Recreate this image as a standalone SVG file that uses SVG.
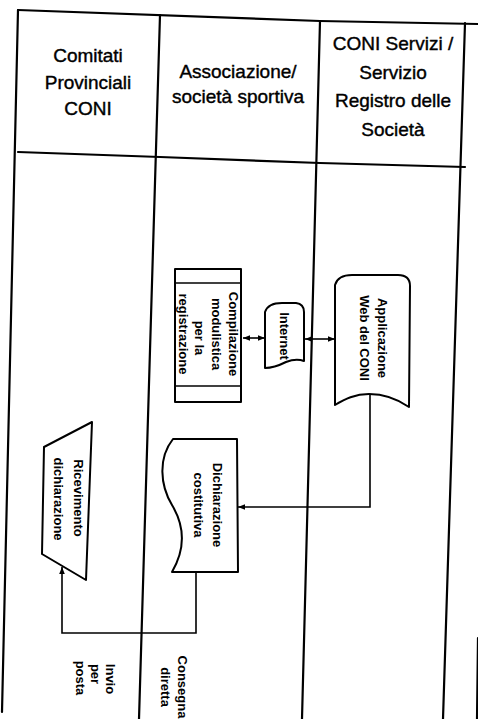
<svg xmlns="http://www.w3.org/2000/svg" width="478" height="719" viewBox="0 0 478 719">
<style>
.lane{stroke:#000;stroke-width:2.2;fill:none;stroke-linecap:round}
.node{stroke:#000;stroke-width:2;fill:#fff;stroke-linejoin:round}
.edge{stroke:#000;stroke-width:1.6;fill:none}
.hdr{font-family:"Liberation Sans",Arial,sans-serif;font-size:19px;text-anchor:middle;fill:#000;stroke:#000;stroke-width:0.4}
.lbl{font-family:"Liberation Sans",Arial,sans-serif;font-size:13px;font-weight:bold;text-anchor:middle;dominant-baseline:central;fill:#000}
</style>
<defs>
<marker id="ah" viewBox="0 0 10 10" refX="10" refY="5" markerWidth="7" markerHeight="7" orient="auto-start-reverse" markerUnits="userSpaceOnUse">
<path d="M0,1 L10,5 L0,9 Z" fill="#000"/>
</marker>
</defs>
<rect x="0" y="0" width="478" height="719" fill="#fff"/>
<g id="lanes">
<path class="lane" d="M18,10 L320,21 L478,24"/>
<path class="lane" d="M18,152 L160,157 L320,163 L465,167"/>
<path class="lane" d="M18,10 L2,712"/>
<path class="lane" d="M160,15 L139,719"/>
<path class="lane" d="M320,21 L302,719"/>
<path class="lane" d="M465,23 L443,719"/>
<path class="lane" d="M478,638 L477,719"/>
</g>
<g id="headers">
<text class="hdr" x="88" y="62">Comitati</text>
<text class="hdr" x="88" y="89">Provinciali</text>
<text class="hdr" x="88" y="115">CONI</text>
<text class="hdr" x="238" y="78">Associazione/</text>
<text class="hdr" x="238" y="103">società sportiva</text>
<text class="hdr" x="393" y="50">CONI Servizi /</text>
<text class="hdr" x="393" y="79">Servizio</text>
<text class="hdr" x="393" y="107">Registro delle</text>
<text class="hdr" x="393" y="136">Società</text>
</g>
<g id="connectors">
<path class="edge" d="M243,338 L265,338" marker-start="url(#ah)" marker-end="url(#ah)"/>
<path class="edge" d="M305,339 L335,339" marker-start="url(#ah)" marker-end="url(#ah)"/>
<path class="edge" d="M370,395 L370,507 L238,507" marker-end="url(#ah)"/>
<path class="edge" d="M196,572 L196,633 L62,633 L62,567" marker-end="url(#ah)"/>
</g>
<g id="compilazione">
<rect class="node" x="175" y="269" width="66" height="133"/>
<line class="edge" x1="175" y1="283" x2="241" y2="283" stroke-width="2"/>
<line class="edge" x1="175" y1="386" x2="241" y2="386" stroke-width="2"/>
<text class="lbl" transform="translate(233,334) rotate(90)">Compilazione</text>
<text class="lbl" transform="translate(216,334) rotate(90)">modulistica</text>
<text class="lbl" transform="translate(199,338) rotate(90)">per la</text>
<text class="lbl" transform="translate(183,334) rotate(90)">registrazione</text>
</g>
<g id="internet">
<path class="node" d="M265,312 Q268,303 282,303 L296,303 Q304,304 304,312 L304,361 Q296,358 286,362 Q274,368 265,368 Z"/>
<text class="lbl" transform="translate(284,336) rotate(90)" font-size="12.5">Internet</text>
</g>
<g id="applicazione">
<path class="node" d="M335,285 C337,278 343,275 352,275 L398,275 C406,275 410,279 410,286 L409,407 C396,398 382,394 369,394 C355,394 345,399 335,405 Z"/>
<text class="lbl" transform="translate(382,338) rotate(90)" font-size="14">Applicazione</text>
<text class="lbl" transform="translate(364,338) rotate(90)" font-size="14">Web del CONI</text>
</g>
<g id="dichiarazione">
<path class="node" d="M173,439 L237,439 L238,572 L172,572 C186,548 184,525 172,505 C160,485 158,458 173,439 Z"/>
<text class="lbl" transform="translate(217,505) rotate(90)" font-size="14">Dichiarazione</text>
<text class="lbl" transform="translate(198,505) rotate(90)" font-size="14">costitutiva</text>
</g>
<g id="ricevimento">
<path class="node" d="M44,447 L92,422 L86,580 L42,554 Z"/>
<text class="lbl" transform="translate(78,498) rotate(90)" font-size="14">Ricevimento</text>
<text class="lbl" transform="translate(58,499) rotate(90)" font-size="14">dichiarazione</text>
</g>
<g id="labels">
<text class="lbl" transform="translate(110,679) rotate(90)">Invio</text>
<text class="lbl" transform="translate(95,674) rotate(90)">per</text>
<text class="lbl" transform="translate(80,678) rotate(90)">posta</text>
<text class="lbl" transform="translate(182,687) rotate(90)" font-size="14">Consegna</text>
<text class="lbl" transform="translate(165,687) rotate(90)" font-size="14">diretta</text>
</g>
</svg>
